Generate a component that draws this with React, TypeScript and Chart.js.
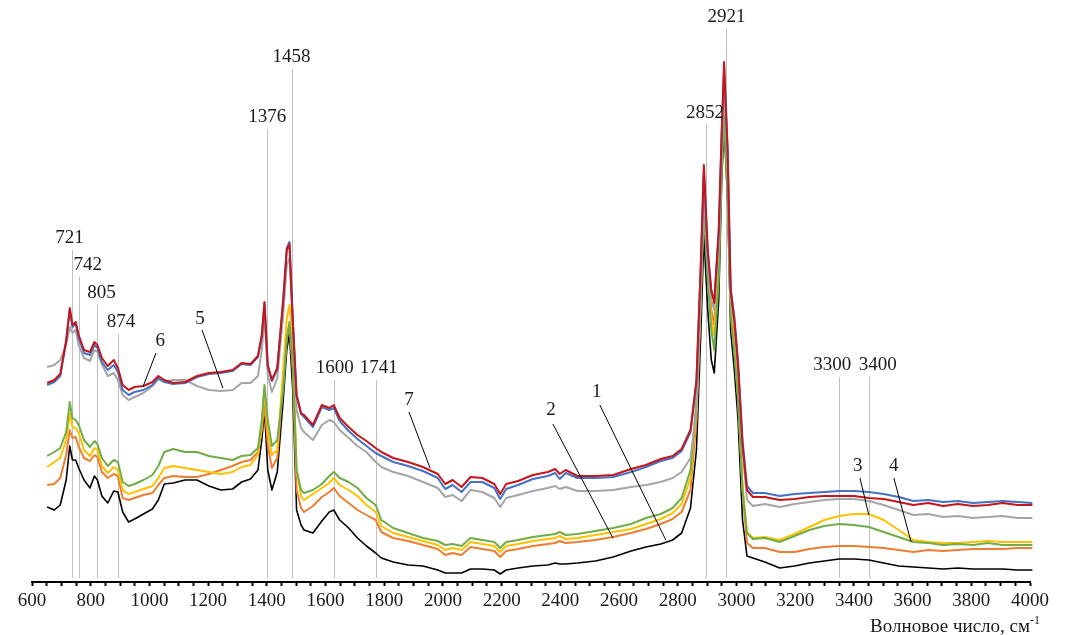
import React, { useEffect, useRef } from "react";
import { Chart, registerables } from "chart.js";

Chart.register(...registerables);

// Wavenumber grid (cm-1)
const WAVENUMBERS = [
  636, 660, 680, 700, 712, 721, 732, 742, 760, 780, 795, 805, 820, 840, 860, 874, 890, 910, 930, 960,
  990, 1010, 1030, 1060, 1100, 1140, 1180, 1220, 1260, 1290, 1320, 1345, 1358, 1367, 1378, 1392, 1410, 1430, 1442, 1451,
  1462, 1475, 1490, 1500, 1530, 1560, 1585, 1600, 1620, 1650, 1680, 1710, 1741, 1760, 1800, 1850, 1900, 1950, 1975, 2000,
  2030, 2060, 2100, 2140, 2160, 2180, 2220, 2270, 2320, 2345, 2360, 2380, 2420, 2480, 2540, 2600, 2650, 2700, 2740, 2770,
  2800, 2820, 2835, 2845, 2858, 2870, 2880, 2895, 2905, 2913, 2925, 2935, 2948, 2960, 2975, 2990, 3010, 3050, 3100, 3150,
  3200, 3250, 3300, 3350, 3400, 3450, 3500, 3550, 3600, 3650, 3700, 3750, 3800, 3850, 3900, 3950, 4000,
];

// Series 1 (black)
const SERIES_1 = [
  15.0, 14.4, 15.4, 20.4, 27.2, 24.4, 24.4, 22.8, 20.4, 18.8, 21.2, 20.4, 17.2, 15.8, 18.2, 18.0, 14.0, 12.0, 12.6, 13.6,
  14.6, 16.4, 19.6, 19.8, 20.4, 20.4, 19.2, 18.4, 18.6, 20.0, 20.6, 22.4, 28.4, 34.4, 22.4, 18.4, 22.0, 36.4, 46.4, 49.8,
  38.4, 14.4, 11.4, 10.4, 9.8, 12.2, 14.0, 14.4, 12.4, 10.8, 8.8, 7.2, 5.8, 4.8, 4.0, 3.4, 3.2, 2.4, 1.8, 1.8,
  1.8, 2.6, 2.6, 2.4, 1.6, 2.4, 2.8, 3.2, 3.4, 3.8, 3.6, 3.6, 3.8, 4.2, 5.0, 6.2, 7.0, 7.6, 8.4, 9.8,
  14.8, 26.4, 50.4, 69.4, 54.4, 44.4, 41.8, 56.4, 80.4, 91.4, 76.4, 50.4, 42.0, 32.4, 12.4, 5.2, 4.8, 4.0, 2.8, 3.2,
  3.8, 4.2, 4.6, 4.6, 4.4, 3.8, 3.2, 3.0, 2.8, 2.6, 2.8, 2.6, 2.6, 2.6, 2.4, 2.4, 2.4,
];

// Series 2 (orange)
const SERIES_2 = [
  19.4, 19.6, 20.8, 25.4, 30.4, 28.8, 29.0, 27.0, 24.8, 24.2, 25.4, 25.0, 22.0, 20.8, 21.6, 21.2, 16.8, 16.4, 16.8, 17.4,
  17.8, 19.4, 20.8, 21.2, 21.0, 21.0, 21.6, 22.4, 23.2, 24.0, 24.4, 26.0, 30.4, 35.6, 27.4, 22.8, 24.8, 40.4, 49.2, 51.4,
  42.4, 18.4, 14.8, 14.0, 15.2, 17.0, 18.0, 18.8, 17.2, 15.8, 14.4, 13.4, 12.4, 10.0, 8.8, 8.2, 7.4, 6.6, 5.4, 5.8,
  5.4, 7.0, 6.6, 6.2, 5.0, 6.2, 6.6, 7.2, 7.6, 7.8, 8.2, 7.8, 8.0, 8.4, 9.0, 9.8, 10.6, 11.6, 12.6, 14.0,
  18.4, 32.4, 56.4, 79.4, 64.0, 54.4, 51.4, 65.4, 86.4, 96.8, 79.4, 56.4, 47.4, 37.4, 18.4, 7.8, 6.8, 6.8, 6.0, 6.0,
  6.6, 7.0, 7.2, 7.2, 7.0, 6.8, 6.4, 6.0, 6.4, 6.2, 6.4, 6.6, 6.6, 6.6, 6.8, 6.8, 6.8,
];

// Series 3 (yellow)
const SERIES_3 = [
  23.0, 24.0, 24.8, 28.4, 33.8, 31.0, 30.8, 29.8, 26.4, 25.2, 26.8, 26.4, 23.2, 21.8, 23.0, 22.4, 18.4, 17.6, 18.0, 18.6,
  19.2, 20.8, 22.8, 23.2, 22.8, 22.4, 22.0, 21.6, 22.0, 23.0, 23.4, 25.4, 31.4, 38.8, 30.0, 25.4, 26.4, 42.4, 52.8, 55.4,
  47.4, 22.4, 17.2, 16.4, 17.6, 18.8, 19.8, 20.8, 19.4, 18.4, 17.2, 15.4, 14.0, 11.2, 9.8, 9.0, 8.2, 7.4, 6.4, 6.8,
  6.4, 8.0, 7.6, 7.2, 6.0, 7.2, 7.6, 8.2, 8.6, 8.8, 9.2, 8.6, 8.8, 9.4, 10.0, 10.6, 11.6, 12.6, 13.8, 15.6,
  20.8, 34.4, 58.4, 77.4, 62.4, 52.4, 49.4, 63.4, 85.4, 96.0, 78.4, 55.4, 46.4, 37.4, 19.4, 10.0, 8.8, 9.0, 8.4, 9.6,
  11.0, 12.4, 13.2, 13.6, 13.6, 12.4, 10.4, 8.4, 8.0, 7.8, 7.8, 8.0, 8.2, 8.0, 8.0, 8.0, 8.0,
];

// Series 4 (green)
const SERIES_4 = [
  25.2, 26.0, 26.8, 30.0, 36.0, 32.8, 32.4, 31.4, 28.4, 27.0, 28.2, 27.6, 24.8, 23.2, 24.4, 24.0, 20.0, 19.2, 19.6, 20.4,
  21.4, 23.2, 26.0, 26.6, 26.0, 26.0, 25.2, 24.8, 24.4, 25.2, 25.4, 26.8, 32.4, 39.4, 32.4, 27.2, 28.4, 38.4, 48.4, 52.0,
  44.4, 22.4, 18.4, 17.8, 18.4, 19.6, 21.2, 22.0, 20.8, 20.0, 18.8, 16.8, 15.4, 12.4, 10.8, 9.8, 8.8, 8.2, 7.4, 7.6,
  7.2, 8.8, 8.4, 8.0, 6.8, 8.0, 8.4, 9.0, 9.4, 9.6, 10.0, 9.4, 9.6, 10.2, 10.8, 11.6, 12.8, 13.6, 14.8, 16.8,
  22.4, 36.4, 58.4, 74.4, 60.4, 50.4, 46.4, 60.4, 82.4, 93.4, 76.4, 53.4, 45.4, 36.4, 18.4, 9.8, 8.6, 8.8, 8.0, 9.2,
  10.4, 11.2, 11.6, 11.4, 11.0, 10.0, 9.0, 8.0, 7.8, 7.4, 7.6, 7.4, 7.8, 7.4, 7.4, 7.4, 7.4,
];

// Series 5 (gray)
const SERIES_5 = [
  43.0, 43.4, 44.4, 47.4, 51.0, 49.8, 50.4, 47.4, 44.8, 44.2, 46.4, 46.0, 43.6, 41.2, 41.8, 40.4, 37.4, 36.4, 37.0, 37.8,
  39.2, 40.6, 40.0, 40.4, 40.4, 39.2, 38.4, 38.2, 38.4, 39.8, 39.8, 41.2, 46.4, 52.8, 41.4, 38.0, 40.8, 53.4, 63.4, 64.8,
  52.4, 34.4, 30.8, 30.0, 28.4, 31.4, 32.4, 32.0, 30.4, 28.8, 27.2, 26.0, 24.0, 23.0, 22.0, 21.2, 20.0, 18.8, 17.0, 17.4,
  16.2, 18.4, 18.0, 16.8, 15.0, 16.8, 17.4, 18.2, 18.8, 19.2, 18.6, 19.0, 18.2, 18.2, 18.4, 19.0, 19.4, 20.0, 20.8, 22.0,
  24.8, 34.4, 58.4, 79.4, 63.4, 56.4, 54.4, 67.4, 86.4, 100.4, 83.4, 57.4, 51.4, 42.4, 26.4, 16.4, 15.2, 15.6, 15.0, 15.6,
  16.0, 16.4, 16.6, 16.6, 16.2, 15.4, 14.4, 13.4, 13.6, 13.0, 13.2, 12.8, 13.0, 13.2, 12.8, 12.8, 12.8,
];

// Series 6 (blue)
const SERIES_6 = [
  39.4, 40.0, 41.2, 48.0, 54.4, 51.0, 51.6, 48.8, 45.8, 45.4, 47.4, 46.8, 44.0, 42.4, 43.4, 42.0, 38.4, 37.4, 38.0, 38.4,
  39.4, 40.8, 40.0, 39.6, 39.8, 41.0, 41.6, 41.8, 42.2, 43.6, 43.4, 45.0, 49.2, 55.8, 43.2, 40.2, 42.6, 56.4, 66.8, 68.0,
  52.8, 37.2, 33.6, 33.0, 31.0, 35.0, 34.4, 34.8, 32.2, 30.2, 28.6, 27.2, 25.8, 25.2, 24.0, 23.2, 22.2, 20.8, 18.6, 19.4,
  18.0, 20.0, 20.0, 18.8, 16.6, 18.6, 19.4, 20.6, 21.2, 21.8, 20.6, 21.8, 20.8, 20.8, 21.0, 22.0, 23.0, 24.2, 24.8, 26.2,
  30.0, 39.8, 63.4, 82.4, 66.0, 58.0, 56.4, 70.0, 89.4, 102.8, 86.0, 58.8, 52.8, 44.0, 28.4, 19.2, 17.8, 17.8, 17.2, 17.6,
  17.8, 18.0, 18.2, 18.2, 18.0, 17.6, 17.0, 16.2, 16.4, 16.0, 16.2, 15.8, 16.0, 16.2, 16.0, 15.8, 15.6,
];

// Series 7 (red)
const SERIES_7 = [
  39.8, 40.4, 41.6, 48.4, 54.8, 51.4, 52.0, 49.4, 46.4, 46.0, 48.0, 47.4, 44.8, 43.2, 44.4, 42.8, 39.4, 38.4, 39.0, 39.2,
  40.0, 41.2, 40.4, 39.8, 40.0, 41.2, 41.8, 42.0, 42.4, 43.8, 43.6, 45.2, 49.4, 56.0, 43.4, 40.4, 42.8, 56.4, 66.4, 67.6,
  52.4, 37.4, 33.8, 33.4, 31.4, 35.4, 34.8, 35.4, 32.8, 31.0, 29.4, 28.2, 26.8, 26.0, 24.8, 24.0, 23.0, 21.6, 19.6, 20.4,
  19.0, 21.0, 20.8, 19.6, 17.6, 19.6, 20.2, 21.4, 22.0, 22.6, 21.6, 22.4, 21.2, 21.2, 21.4, 22.6, 23.4, 24.6, 25.2, 26.6,
  30.4, 40.4, 64.4, 83.4, 66.4, 58.4, 55.8, 70.4, 90.4, 104.0, 86.4, 58.4, 52.0, 43.4, 27.4, 18.4, 17.0, 17.0, 16.4, 16.6,
  17.0, 17.2, 17.2, 17.2, 16.8, 16.6, 16.0, 15.4, 15.8, 15.2, 15.6, 15.2, 15.4, 15.8, 15.4, 15.4, 15.2,
];

const SERIES_NAMES = ["7", "6", "5", "4", "3", "2", "1"];
const SERIES_COLORS = ["#C4161C", "#4472C4", "#A5A5A5", "#70AD47", "#FFC000", "#ED7D31", "#000000"];
const SERIES_VALUES = [SERIES_7, SERIES_6, SERIES_5, SERIES_4, SERIES_3, SERIES_2, SERIES_1];

// Peak markers
const PEAK_WN = [721, 742, 805, 874, 1376, 1458, 1600, 1741, 2852, 2921, 3300, 3400];
const PEAK_LABEL_Y = [68.8, 63.4, 57.8, 52, 93, 105, 42.8, 42.8, 93.8, 113, 43.4, 43.4];
const PEAK_LABEL_DX = [-3, 9, 4, 3, 0, 0, 1, 3, -1, 0, -7, 9];

// Curve number tags: [labelWn, labelY, fromWn, fromY, toWn, toY]
const TAG_TEXT = ["1", "2", "7", "6", "5", "3", "4"];
const TAG_POS = [
  [2485, 38, 2495, 35.4, 2717, 8.4],
  [2331, 34.4, 2337, 31.6, 2539, 8.8],
  [1853, 36.4, 1853, 34, 1924, 22.8],
  [1016, 48.2, 1002, 45.8, 958, 39],
  [1150, 52.6, 1157, 50.4, 1227, 38.8],
  [3363, 23.2, 3370, 20.8, 3400, 13.4],
  [3484, 23.2, 3484, 20.8, 3542, 8],
];

const X_TICK_MIN = 600;
const X_TICK_MAX = 4000;
const X_TITLE = "Волновое число, см";
const X_TITLE_SUP = "-1";

const FONT = "'Liberation Serif', 'Times New Roman', serif";

const annotPlugin = {
  id: "annot",
  beforeDatasetsDraw(chart: any) {
    const ctx = chart.ctx;
    const xs = chart.scales.xd;
    const ys = chart.scales.y;
    ctx.save();
    ctx.strokeStyle = "#BFBFBF";
    ctx.lineWidth = 1;
    PEAK_WN.forEach((wn, i) => {
      const px = Math.round(xs.getPixelForValue(wn)) + 0.5;
      const top = ys.getPixelForValue(PEAK_LABEL_Y[i]) + 12;
      const bottom = ys.getPixelForValue(0) - 4;
      ctx.beginPath();
      ctx.moveTo(px, top);
      ctx.lineTo(px, bottom);
      ctx.stroke();
    });
    ctx.restore();
  },
  afterDatasetsDraw(chart: any) {
    const ctx = chart.ctx;
    const xs = chart.scales.xd;
    const ys = chart.scales.y;
    ctx.save();
    ctx.fillStyle = "#1a1a1a";
    ctx.font = `19px ${FONT}`;
    ctx.textAlign = "center";
    ctx.textBaseline = "middle";
    PEAK_WN.forEach((wn, i) => {
      ctx.fillText(String(wn), xs.getPixelForValue(wn) + PEAK_LABEL_DX[i], ys.getPixelForValue(PEAK_LABEL_Y[i]));
    });
    ctx.strokeStyle = "#000";
    ctx.lineWidth = 1;
    TAG_TEXT.forEach((t, i) => {
      const p = TAG_POS[i];
      ctx.fillText(t, xs.getPixelForValue(p[0]), ys.getPixelForValue(p[1]));
      ctx.beginPath();
      ctx.moveTo(xs.getPixelForValue(p[2]), ys.getPixelForValue(p[3]));
      ctx.lineTo(xs.getPixelForValue(p[4]), ys.getPixelForValue(p[5]));
      ctx.stroke();
    });
    // axis title with superscript
    const xa = chart.scales.x;
    const right = xa.right + 10;
    ctx.textBaseline = "alphabetic";
    ctx.font = `12px ${FONT}`;
    const supW = ctx.measureText(X_TITLE_SUP).width;
    ctx.textAlign = "right";
    ctx.fillText(X_TITLE_SUP, right, 624);
    ctx.font = `19px ${FONT}`;
    ctx.fillText(X_TITLE, right - supW, 632);
    ctx.restore();
  },
};

export default function App() {
  const ref = useRef<HTMLCanvasElement | null>(null);
  useEffect(() => {
    document.body.style.margin = "0";
    document.body.style.overflow = "hidden";
    const canvas = ref.current;
    if (!canvas) return;
    const datasets = SERIES_VALUES.map((vals, i) => ({
      label: SERIES_NAMES[i],
      data: WAVENUMBERS.map((w, j) => ({ x: w, y: vals[j] })),
      borderColor: SERIES_COLORS[i],
      backgroundColor: SERIES_COLORS[i],
      borderWidth: i === 6 ? 1.6 : 2,
      pointRadius: 0,
      tension: 0,
      borderJoinStyle: "round" as const,
      xAxisID: "xd",
      yAxisID: "y",
      clip: false as any,
    }));
    const chart = new Chart(canvas, {
      type: "line",
      data: { datasets },
      options: {
        responsive: false,
        animation: false,
        events: [],
        layout: { padding: { left: 32, right: 40, top: 32, bottom: 0 } },
        plugins: { legend: { display: false }, tooltip: { enabled: false }, title: { display: false } },
        scales: {
          xd: { type: "linear", display: false, min: 585, max: 3942 },
          x: {
            type: "linear",
            position: "bottom",
            min: X_TICK_MIN,
            max: X_TICK_MAX,
            afterFit: (s: any) => {
              s.height = 53;
            },
            ticks: {
              stepSize: 50,
              autoSkip: false,
              maxRotation: 0,
              padding: 4,
              color: "#1a1a1a",
              font: { family: FONT, size: 19 },
              callback: (v: any) => (Number(v) % 200 === 0 ? String(v) : ""),
            },
            grid: { drawOnChartArea: false, drawTicks: true, tickLength: 4, tickColor: "#000", tickWidth: 2 },
            border: { display: true, color: "#000", width: 2 },
          },
          y: { type: "linear", display: false, min: 0, max: 110 },
        },
      },
      plugins: [annotPlugin],
    });
    return () => chart.destroy();
  }, []);
  return <canvas ref={ref} width={1070} height={635} style={{ display: "block" }} />;
}
